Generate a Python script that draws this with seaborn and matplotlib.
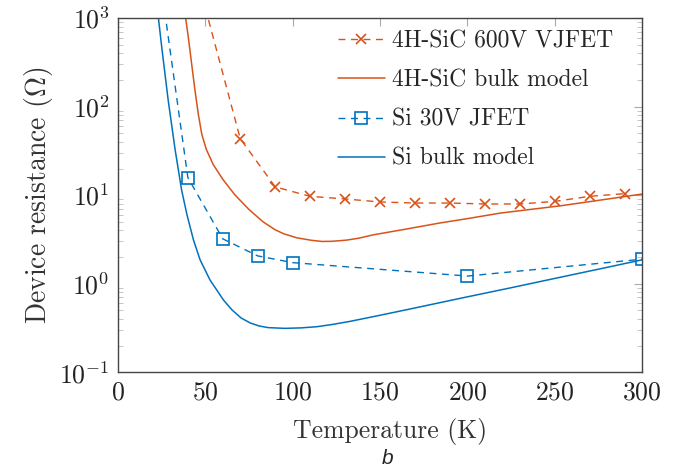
import numpy as np
import pandas as pd
import seaborn as sns
import matplotlib.pyplot as plt
from matplotlib.ticker import LogLocator, MultipleLocator, NullFormatter

# Valores
sic_jfet_T = [50, 70, 90, 110, 130, 150, 170, 190, 210, 230, 250, 270, 290]
sic_jfet_R = [1300, 43.4, 12.4, 9.7, 9.06, 8.38, 8.15, 8.15, 7.95, 7.95, 8.5, 9.7, 10.4]

sic_bulk_T = [38.7, 40.4, 42.2, 44.0, 46.0, 48.0, 50.6, 54.5, 60.1, 66.9, 75.1, 83.0, 89.9,
              94.9, 102.3, 110.8, 116.8, 122, 127, 131, 138, 146, 165, 184, 200, 219, 253,
              280, 300]
sic_bulk_R = [1020, 578, 301, 157, 81.7, 48.5, 32.8, 22.2, 15.0, 10.1, 6.85, 5.01, 4.07,
              3.66, 3.30, 3.09, 3.0, 3.01, 3.06, 3.11, 3.27, 3.56, 4.14, 4.84, 5.43, 6.28, 7.57,
              9.02, 10.3]

si_jfet_T = [25, 40, 60, 80, 100, 200, 300]
si_jfet_R = [2100, 15.8, 3.21, 2.06, 1.73, 1.22, 1.89]

si_bulk_T = [23.1, 25.2, 28.7, 32.7, 36.4, 39.5, 43.2, 47.0, 52.7, 60.4, 65.3, 70.5, 75.7,
             80.8, 86.0, 95.6, 105, 114, 123, 133, 150, 169, 196, 225, 253, 280, 300]
si_bulk_R = [1020, 443, 120, 32.7, 11.5, 6.0, 3.13, 1.86, 1.10, 0.654, 0.505, 0.41, 0.36,
             0.333, 0.319, 0.313, 0.317, 0.327, 0.347, 0.376, 0.44, 0.527, 0.684, 0.90, 1.18,
             1.53, 1.86]

laranja = "#D95319"
azul = "#0072BD"

sns.set_style("white")
plt.rcParams["font.family"] = ["cmr10", "DejaVu Serif"]
plt.rcParams["mathtext.fontset"] = "cm"
plt.rcParams["axes.formatter.use_mathtext"] = True

fig = plt.figure(figsize=(6.78, 4.76), dpi=100)
ax = fig.add_axes([0.174, 0.218, 0.773, 0.744])

tracejado = (0, (5, 4))
sns.lineplot(x=sic_jfet_T, y=sic_jfet_R, ax=ax, color=laranja, linestyle=tracejado, lw=1.0,
             marker="x", markersize=7, mew=1.2, markeredgecolor=laranja, sort=False,
             errorbar=None, label="4H-SiC 600V VJFET")
sns.lineplot(x=sic_bulk_T, y=sic_bulk_R, ax=ax, color=laranja, lw=1.1, sort=False,
             errorbar=None, label="4H-SiC bulk model")
sns.lineplot(x=si_jfet_T, y=si_jfet_R, ax=ax, color=azul, linestyle=tracejado, lw=1.0,
             marker="s", markersize=9, markerfacecolor="none", markeredgecolor=azul, mew=1.2,
             sort=False, errorbar=None, label="Si 30V JFET")
sns.lineplot(x=si_bulk_T, y=si_bulk_R, ax=ax, color=azul, lw=1.1, sort=False,
             errorbar=None, label="Si bulk model")

ax.set_yscale("log")
ax.set_xlim(0, 300)
ax.set_ylim(0.1, 1000)
ax.xaxis.set_major_locator(MultipleLocator(50))
ax.yaxis.set_major_locator(LogLocator(base=10, numticks=10))
ax.yaxis.set_minor_locator(LogLocator(base=10, subs=np.arange(2, 10), numticks=20))
ax.yaxis.set_minor_formatter(NullFormatter())

for s in ax.spines.values():
    s.set_color("#444444")
    s.set_linewidth(1.0)
ax.tick_params(which="major", direction="in", length=6, width=0.8, color="#aaaaaa",
               top=True, right=True, labelsize=18.5, labelcolor="#222222", pad=6)
ax.tick_params(which="minor", direction="in", length=3.5, width=0.6, color="#bbbbbb",
               left=True, right=True)

ax.set_xlabel("Temperature (K)", fontsize=18.5, color="#333333", labelpad=10)
ax.xaxis.label.set_x(0.519)
ax.set_ylabel(r"Device resistance ($\Omega$)", fontsize=20, color="#333333", labelpad=3)

leg = ax.legend(loc="upper right", bbox_to_anchor=(0.945, 0.965), frameon=False,
                fontsize=17, handlelength=2.0, handletextpad=0.3, labelspacing=0.72,
                borderpad=0, borderaxespad=0)

fig.text(0.571, 0.036, "b", fontsize=15, style="italic", family="Liberation Sans",
         ha="center", va="center")

fig.savefig("out.png", dpi=100)
